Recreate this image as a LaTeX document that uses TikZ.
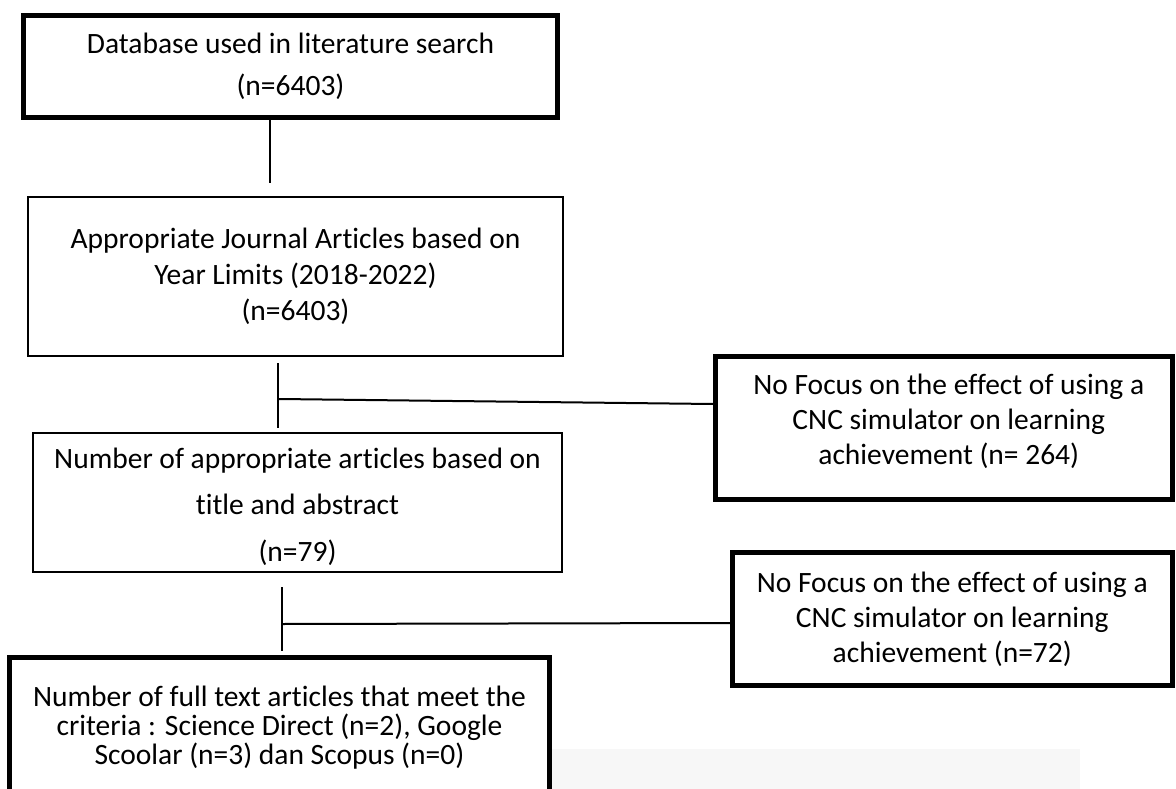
\documentclass[tikz,border=0pt]{standalone}
\usepackage{fontspec}
\setmainfont[Ligatures=NoCommon]{Carlito}
\begin{document}
\begin{tikzpicture}[x=1pt,y=-1pt,
  thickbox/.style={draw=black,line width=5pt,fill=white,align=center,inner sep=0pt},
  thinbox/.style={draw=black,line width=2pt,fill=white,align=center,inner sep=0pt},
  conn/.style={draw=black,line width=2pt}]
\useasboundingbox (0,0) rectangle (1176,789);
\clip (0,0) rectangle (1176,789);
\fill[white] (0,0) rectangle (1176,789);
\fill[black!3] (552,749) rectangle (1080,789);

\node[thickbox,minimum width=534pt,minimum height=102pt,font=\fontsize{29.5}{42}\selectfont] (b1) at (290.5,66.5)
  {Database used in literature search\\(n=6403)};
\node[thinbox,minimum width=535pt,minimum height=159pt,font=\fontsize{29.5}{36}\selectfont] (b2) at (295.5,276.5)
  {Appropriate Journal Articles based on\\Year Limits (2018-2022)\\(n=6403)};
\node[thinbox,minimum width=529pt,minimum height=137pt,font=\fontsize{29.5}{46.5}\selectfont] (b3) at (297.5,502.5)
  {\raisebox{-3pt}[\height][\depth]{\begin{tabular}{@{}c@{}}Number of appropriate articles based on\\title and abstract\\(n=79)\end{tabular}}};
\node[thickbox,minimum width=456.5pt,minimum height=143pt,font=\fontsize{29.5}{35}\selectfont] (b4) at (943.75,428)
  {\hspace*{10pt}\raisebox{6pt}[\height][\depth]{\begin{tabular}{@{}c@{}}No Focus on the effect of using a\\CNC simulator on learning\\achievement (n= 264)\end{tabular}}};
\node[thickbox,minimum width=439.5pt,minimum height=133pt,font=\fontsize{29.5}{35}\selectfont] (b5) at (952.25,619)
  {No Focus on the effect of using a\\CNC simulator on learning\\achievement (n=72)};
\node[thickbox,minimum width=540pt,minimum height=140.5pt,font=\fontsize{29.5}{29}\selectfont] (b6) at (279.5,727.75)
  {Number of full text articles that meet the\\criteria : Science Direct (n=2), Google\\Scoolar (n=3) dan Scopus (n=0)};

\coordinate (c1) at (270,183);
\coordinate (c2a) at (278,363);
\coordinate (c2b) at (278,428);
\coordinate (c2h) at (279,399);
\coordinate (c3a) at (282,587);
\coordinate (c3b) at (282,651);
\coordinate (c3h) at (283,624);

\draw[conn] (b1.south -| c1) -- (c1);
\draw[conn] (c2a) -- (c2b);
\draw[conn] (c2h) -- (b4.west |- 0,404);
\draw[conn] (c3a) -- (c3b);
\draw[conn] (c3h) -- (b5.west |- 0,623);
\end{tikzpicture}
\end{document}
